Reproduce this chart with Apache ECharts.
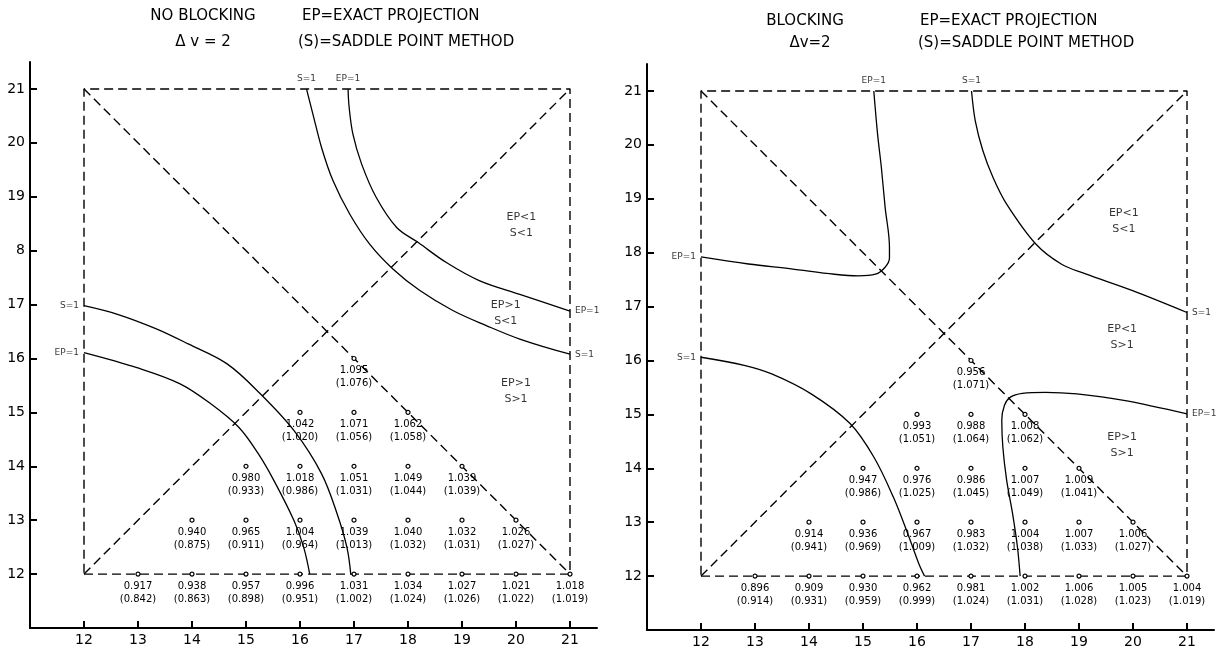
<!DOCTYPE html>
<html>
<head>
<meta charset="utf-8">
<script src="https://cdn.jsdelivr.net/npm/echarts@6/dist/echarts.min.js"></script>
<style>
html, body { margin: 0; padding: 0; background: #fff; }
#main { width: 1230px; height: 656px; }
</style>
</head>
<body>
<div id="main"></div>
<script>
// tick labels
var xTicks = [12, 13, 14, 15, 16, 17, 18, 19, 20, 21];
var leftYLabels = ['12', '13', '14', '15', '16', '17', '8', '19', '20', '21']; // "8" as printed
var rightYLabels = ['12', '13', '14', '15', '16', '17', '18', '19', '20', '21'];

// grid points carrying values (same in both panels)
var ptX = [17, 16, 17, 18, 15, 16, 17, 18, 19, 14, 15, 16, 17, 18, 19, 20, 13, 14, 15, 16, 17, 18, 19, 20, 21];
var ptY = [16, 15, 15, 15, 14, 14, 14, 14, 14, 13, 13, 13, 13, 13, 13, 13, 12, 12, 12, 12, 12, 12, 12, 12, 12];

// no blocking: exact projection / (saddle point)
var leftEP = [1.095, 1.042, 1.071, 1.062, 0.980, 1.018, 1.051, 1.049, 1.039, 0.940, 0.965, 1.004, 1.039, 1.040, 1.032, 1.026, 0.917, 0.938, 0.957, 0.996, 1.031, 1.034, 1.027, 1.021, 1.018];
var leftS = [1.076, 1.020, 1.056, 1.058, 0.933, 0.986, 1.031, 1.044, 1.039, 0.875, 0.911, 0.964, 1.013, 1.032, 1.031, 1.027, 0.842, 0.863, 0.898, 0.951, 1.002, 1.024, 1.026, 1.022, 1.019];
// blocking
var rightEP = [0.956, 0.993, 0.988, 1.008, 0.947, 0.976, 0.986, 1.007, 1.009, 0.914, 0.936, 0.967, 0.983, 1.004, 1.007, 1.006, 0.896, 0.909, 0.930, 0.962, 0.981, 1.002, 1.006, 1.005, 1.004];
var rightS = [1.071, 1.051, 1.064, 1.062, 0.986, 1.025, 1.045, 1.049, 1.041, 0.941, 0.969, 1.009, 1.032, 1.038, 1.033, 1.027, 0.914, 0.931, 0.959, 0.999, 1.024, 1.031, 1.028, 1.023, 1.019];

// dashed frame and diagonals
var frame = [[12, 12], [21, 12], [21, 21], [12, 21], [12, 12]];
var diagUp = [[12, 12], [21, 21]];
var diagDown = [[12, 21], [21, 12]];

// curves, no blocking
var leftSTop = [[16.12, 21], [16.24, 20.53], [16.4, 19.91], [16.61, 19.3], [16.92, 18.68], [17.29, 18.12], [17.72, 17.66], [18.22, 17.26], [18.83, 16.89], [19.45, 16.61], [20.07, 16.36], [21, 16.08]];
var leftEPTop = [[16.89, 21], [16.91, 20.66], [16.98, 20.16], [17.14, 19.61], [17.41, 18.99], [17.79, 18.43], [18.19, 18.15], [18.71, 17.78], [19.33, 17.44], [20.07, 17.19], [21, 16.88]];
var leftSLow = [[12, 16.98], [12.62, 16.82], [13.34, 16.55], [13.93, 16.27], [14.65, 15.9], [15.27, 15.34], [15.89, 14.66], [16.4, 13.86], [16.69, 13.11], [16.87, 12.49], [16.94, 12]];
var leftEPLow = [[12, 16.11], [12.98, 15.83], [13.78, 15.53], [14.36, 15.15], [14.87, 14.72], [15.23, 14.23], [15.52, 13.73], [15.89, 12.99], [16.07, 12.49], [16.18, 12]];

// curves, blocking
var rightEPUp = [[12, 17.92], [12.88, 17.79], [13.67, 17.7], [14.47, 17.6], [14.91, 17.57], [15.23, 17.6], [15.41, 17.73], [15.49, 17.9], [15.49, 18.1], [15.41, 18.84], [15.34, 19.58], [15.27, 20.2], [15.2, 21]];
var rightSUp = [[17.01, 21], [17.08, 20.44], [17.22, 19.89], [17.41, 19.39], [17.66, 18.9], [18.2, 18.16], [18.67, 17.79], [19.11, 17.61], [19.98, 17.3], [21, 16.89]];
var rightSLow = [[12, 16.06], [12.8, 15.91], [13.31, 15.75], [14.04, 15.38], [14.76, 14.83], [15.2, 14.21], [15.56, 13.47], [15.85, 12.73], [16.03, 12.24], [16.14, 12]];
var rightEPLow = [[17.91, 12], [17.86, 12.54], [17.77, 13.16], [17.66, 13.78], [17.59, 14.39], [17.57, 14.89], [17.62, 15.17], [17.73, 15.32], [17.95, 15.39], [18.38, 15.41], [18.96, 15.38], [19.83, 15.26], [21, 15.01]];

// curve-end labels
var leftNotesLeft = [[12, 16.98, 'S=1'], [12, 16.11, 'EP=1']];
var leftNotesTop = [[16.12, 21, 'S=1'], [16.89, 21, 'EP=1']];
var leftNotesRight = [[21, 16.88, 'EP=1'], [21, 16.08, 'S=1']];
var rightNotesLeft = [[12, 17.92, 'EP=1'], [12, 16.06, 'S=1']];
var rightNotesTop = [[15.2, 21, 'EP=1'], [17.01, 21, 'S=1']];
var rightNotesRight = [[21, 16.89, 'S=1'], [21, 15.01, 'EP=1']];

// region labels
var leftRegions = [[20.1, 18.47, 'EP<1\nS<1'], [19.81, 16.84, 'EP>1\nS<1'], [20.0, 15.4, 'EP>1\nS>1']];
var rightRegions = [[19.83, 18.59, 'EP<1\nS<1'], [19.8, 16.43, 'EP<1\nS>1'], [19.8, 14.43, 'EP>1\nS>1']];

var ink = '#000';
var font = 'DejaVu Sans';
var myChart = echarts.init(document.getElementById('main'));

function curve(idx, data) {
	return {
		type: 'line', xAxisIndex: idx, yAxisIndex: idx, data: data,
		showSymbol: false, smooth: 0.35, silent: true, z: 3,
		lineStyle: { color: ink, width: 1.3 }
	};
}

function dashed(idx, data) {
	return {
		type: 'line', xAxisIndex: idx, yAxisIndex: idx, data: data,
		showSymbol: false, silent: true, z: 2,
		lineStyle: { color: ink, width: 1.4, type: [9, 5] }
	};
}

function points(idx, ep, s) {
	return {
		type: 'scatter', xAxisIndex: idx, yAxisIndex: idx, z: 5, silent: true,
		symbol: 'circle', symbolSize: 4,
		itemStyle: { color: '#fff', borderColor: ink, borderWidth: 1.2, opacity: 1 },
		data: ptX.map(function(x, i) { return [x, ptY[i], ep[i], s[i]]; }),
		label: {
			show: true, position: 'bottom', distance: 3,
			fontFamily: font, fontSize: 10, lineHeight: 13, color: ink,
			formatter: function(p) {
				return p.value[2].toFixed(3) + '\n(' + p.value[3].toFixed(3) + ')';
			}
		}
	};
}

function notes(idx, data, side, size, lh) {
	return {
		type: 'scatter', xAxisIndex: idx, yAxisIndex: idx, z: 6, silent: true,
		symbolSize: 0, data: data,
		label: {
			show: true, position: side, distance: 5,
			fontFamily: font, fontSize: size, lineHeight: lh || size + 2, color: ink, align: side === 'inside' ? 'center' : undefined,
			formatter: function(p) { return p.value[2]; }
		}
	};
}

function xAxisOf(idx) {
	return {
		gridIndex: idx, type: 'value', min: 11, max: 21.5, interval: 1,
		axisLine: { show: true, onZero: false, lineStyle: { color: ink, width: 2 } },
		axisTick: { show: true, inside: true, length: 7, customValues: xTicks, lineStyle: { color: ink, width: 2 } },
		axisLabel: { customValues: xTicks, fontFamily: font, fontSize: 14, color: ink, margin: 5 },
		splitLine: { show: false }
	};
}

function yAxisOf(idx, labels) {
	return {
		gridIndex: idx, type: 'value', min: 11, max: 21.5, interval: 1,
		axisLine: { show: true, onZero: false, lineStyle: { color: ink, width: 2 } },
		axisTick: { show: true, inside: true, length: 7, customValues: xTicks, lineStyle: { color: ink, width: 2 } },
		axisLabel: {
			customValues: xTicks, fontFamily: font, fontSize: 14, color: ink, margin: 5,
			formatter: function(v) { return labels[xTicks.indexOf(v)]; }
		},
		splitLine: { show: false }
	};
}

function title(text, x, y, align) {
	return {
		type: 'text', x: x, y: y,
		style: { text: text, fill: ink, font: '15px "DejaVu Sans"', align: align, verticalAlign: 'middle' }
	};
}

var option = {
	backgroundColor: '#fff',
	animation: false,
	grid: [
		{ left: 30, top: 62, width: 567, height: 566 },
		{ left: 647, top: 64, width: 567, height: 566 }
	],
	xAxis: [xAxisOf(0), xAxisOf(1)],
	yAxis: [yAxisOf(0, leftYLabels), yAxisOf(1, rightYLabels)],
	graphic: [
		title('NO BLOCKING', 203, 16, 'center'),
		title('Δ v = 2', 203, 42, 'center'),
		title('EP=EXACT PROJECTION', 302, 16, 'left'),
		title('(S)=SADDLE POINT METHOD', 298, 42, 'left'),
		title('BLOCKING', 805, 21, 'center'),
		title('Δv=2', 810, 43, 'center'),
		title('EP=EXACT PROJECTION', 920, 21, 'left'),
		title('(S)=SADDLE POINT METHOD', 918, 43, 'left')
	],
	series: [
		dashed(0, frame), dashed(0, diagUp), dashed(0, diagDown),
		curve(0, leftSTop), curve(0, leftEPTop), curve(0, leftSLow), curve(0, leftEPLow),
		points(0, leftEP, leftS),
		notes(0, leftNotesLeft, 'left', 9), notes(0, leftNotesTop, 'top', 9), notes(0, leftNotesRight, 'right', 9),
		notes(0, leftRegions, 'inside', 11, 16),

		dashed(1, frame), dashed(1, diagUp), dashed(1, diagDown),
		curve(1, rightEPUp), curve(1, rightSUp), curve(1, rightSLow), curve(1, rightEPLow),
		points(1, rightEP, rightS),
		notes(1, rightNotesLeft, 'left', 9), notes(1, rightNotesTop, 'top', 9), notes(1, rightNotesRight, 'right', 9),
		notes(1, rightRegions, 'inside', 11, 16)
	]
};
myChart.setOption(option);
</script>
</body>
</html>
